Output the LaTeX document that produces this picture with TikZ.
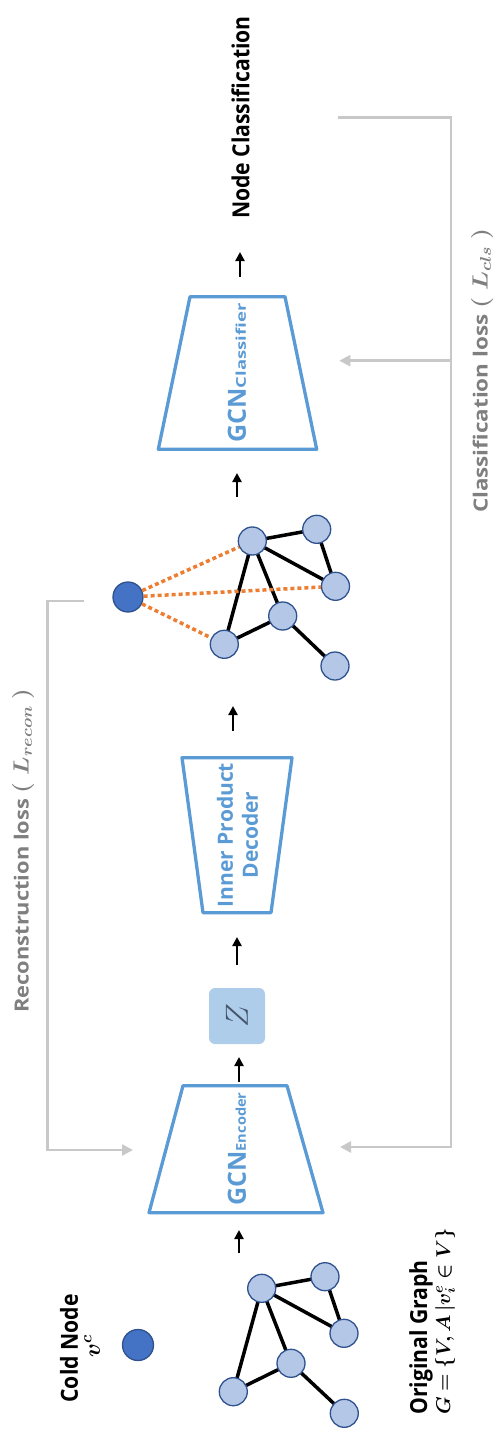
\RequirePackage{fix-cm}
\documentclass[tikz,border=0pt]{standalone}
\usepackage{fontspec}
\setmainfont{Open Sans}
\usepackage{bm}
\usepackage{graphicx}
\usetikzlibrary{arrows.meta,backgrounds}
\definecolor{gblue}{HTML}{5B9BD5}
\definecolor{nfill}{HTML}{B4C7E7}
\definecolor{nedge}{HTML}{2F528F}
\definecolor{coldc}{HTML}{4472C4}
\definecolor{lossgray}{HTML}{C8C8C8}
\definecolor{txtgray}{HTML}{7F7F7F}
\definecolor{zfill}{HTML}{AECDEA}
\definecolor{zink}{HTML}{44546A}
\definecolor{orng}{HTML}{ED7D31}
\begin{document}
\begin{tikzpicture}[x=1pt,y=-1pt,
  gnode/.style={circle, minimum size=28pt, inner sep=0pt, fill=nfill, draw=nedge, line width=1.3pt},
  cnode/.style={circle, minimum size=30pt, inner sep=0pt, fill=coldc, draw=nedge, line width=1.3pt},
  gedge/.style={line width=3.5pt, black},
  odot/.style={line width=3.5pt, orng, dash pattern=on 4pt off 3pt},
  flow/.style={line width=2.3pt, black, -{Triangle[width=9pt,length=9pt]}},
  lossline/.style={line width=2.5pt, lossgray},
  lossarr/.style={lossline, -{Triangle[width=11pt,length=11pt]}},
  trap/.style={line width=3.3pt, gblue, line join=round},
  btxt/.style={rotate=90, inner sep=0pt, font=\fontsize{23.5}{27}\selectfont\bfseries},
  gtxt/.style={rotate=90, inner sep=0pt, text=txtgray, font=\fontsize{19.5}{22}\selectfont\bfseries},
  blulbl/.style={rotate=90, inner sep=0pt, text=gblue},
  mtxt/.style={rotate=90, inner sep=0pt, font=\fontsize{20}{20}\selectfont}
]
\useasboundingbox (0,0) rectangle (497,1431);

% ---------- legend: cold node ----------
\node[btxt] (coldlbl) at (69,1348.5) {\scalebox{0.9}[1]{Cold Node}};
\node[mtxt, font=\fontsize{23}{23}\selectfont] (coldsym) at (92,1346) {$\bm{v}^{\bm{c}}$};
\node[cnode, minimum size=31pt] (coldlegend) at (138,1345) {};

% ---------- original graph ----------
\node[gnode] (og1) at (261.7,1288.3) {};
\node[gnode] (og2) at (325,1276.7) {};
\node[gnode] (og3) at (344,1333.3) {};
\node[gnode] (og4) at (291,1363.3) {};
\node[gnode] (og5) at (233.3,1391.7) {};
\node[gnode] (og6) at (344.3,1413.3) {};
\begin{scope}[on background layer]
  \draw[gedge] (og1.center) -- (og2.center);
  \draw[gedge] (og2.center) -- (og3.center);
  \draw[gedge] (og1.center) -- (og3.center);
  \draw[gedge] (og1.center) -- (og5.center);
  \draw[gedge] (og1.center) -- (og4.center);
  \draw[gedge] (og4.center) -- (og5.center);
  \draw[gedge] (og4.center) -- (og6.center);
\end{scope}
\node[btxt] (oglbl) at (421,1337.5) {\scalebox{0.9}[1]{Original Graph}};
\node[mtxt] (ogform) at (445,1321.5) {$\bm{G=\{V,A\,|v_i^e\in V\}}$};

% ---------- encoder ----------
\draw[trap] (183,1085.7) -- (287,1085.7) -- (323,1212.7) -- (149,1212.7) -- cycle;
\node[blulbl] (enc) at (237,1149) {\fontsize{25}{25}\selectfont\bfseries GCN\fontsize{13.5}{14}\selectfont\scalebox{1.08}[1]{Encoder}};

% ---------- Z ----------
\node[rotate=90, fill=zfill, rounded corners=6pt, minimum size=56pt, inner sep=0pt, text=zink,
      font=\fontsize{32}{32}\selectfont] (z) at (237,1016) {$Z$};

% ---------- decoder ----------
\draw[trap] (182,757.7) -- (292,757.7) -- (271,912.7) -- (203,912.7) -- cycle;
\node[blulbl, align=center, font=\fontsize{21}{25}\selectfont\bfseries] (dec) at (237.5,835) {Inner Product\\Decoder};

% ---------- reconstructed graph ----------
\node[gnode] (r1) at (252.3,541) {};
\node[gnode] (r2) at (316.7,529.3) {};
\node[gnode] (r3) at (335.5,586.3) {};
\node[gnode] (r4) at (282.7,616) {};
\node[gnode] (r5) at (224.3,644.3) {};
\node[gnode] (r6) at (335,666) {};
\node[cnode] (rc) at (128,597) {};
\begin{scope}[on background layer]
  \draw[gedge] (r1.center) -- (r2.center);
  \draw[gedge] (r2.center) -- (r3.center);
  \draw[gedge] (r1.center) -- (r3.center);
  \draw[gedge] (r1.center) -- (r5.center);
  \draw[gedge] (r1.center) -- (r4.center);
  \draw[gedge] (r4.center) -- (r5.center);
  \draw[gedge] (r4.center) -- (r6.center);
\end{scope}
\draw[odot] (rc) -- (r1);
\draw[odot] (rc) -- (r3);
\draw[odot] (rc) -- (r5);

% ---------- classifier ----------
\draw[trap] (190,296.7) -- (285,296.7) -- (316.7,449.3) -- (158.3,449.3) -- cycle;
\node[blulbl] (cls) at (237,373) {\fontsize{25}{25}\selectfont\bfseries GCN\fontsize{13.5}{14}\selectfont\scalebox{1.37}[1]{Classifier}};

% ---------- output ----------
\node[btxt] (nclbl) at (240.5,117.5) {\scalebox{0.9}[1]{Node Classification}};

% ---------- flow arrows ----------
\coordinate (a1s) at (239,1253); \coordinate (a1e) at (239,1230);
\coordinate (a2s) at (239,1082); \coordinate (a2e) at (239,1057);
\coordinate (a3s) at (237,965);  \coordinate (a3e) at (237,937);
\coordinate (a4s) at (233,731);  \coordinate (a4e) at (233,706);
\coordinate (a5s) at (237,497);  \coordinate (a5e) at (237,473);
\coordinate (a6s) at (240,277);  \coordinate (a6e) at (240,252);
\draw[flow] (a1s) -- (a1e);
\draw[flow] (a2s) -- (a2e);
\draw[flow] (a3s) -- (a3e);
\draw[flow] (a4s) -- (a4e);
\draw[flow] (a5s) -- (a5e);
\draw[flow] (a6s) -- (a6e);

% ---------- loss brackets ----------
\coordinate (lt) at (84.3,601);
\coordinate (lbend) at (47.7,1150);
\coordinate (lend) at (133,1150);
\draw[lossarr] (lt) -| (lbend) -- (lend);
\coordinate (rt) at (338,117.3);
\coordinate (rbend) at (451,1147);
\coordinate (rend) at (340,1147);
\draw[lossarr] (rt) -| (rbend) -- (rend);
\coordinate (rmid) at (451,360.7);
\coordinate (rmidend) at (339.3,360.7);
\draw[lossarr] (rmid) -- (rmidend);

\node[gtxt] (reclbl) at (23,850.5) {\scalebox{1.12}[1]{Reconstruction loss {\fontsize{22}{22}\selectfont$\bm{(}\;\bm{L}_{\bm{recon}}\;\bm{)}$}}};
\node[gtxt] (clslbl) at (482,370.5) {\scalebox{1.15}[1]{Classification loss {\fontsize{22}{22}\selectfont$\bm{(}\;\bm{L}_{\bm{cls}}\;\bm{)}$}}};
\end{tikzpicture}
\end{document}
